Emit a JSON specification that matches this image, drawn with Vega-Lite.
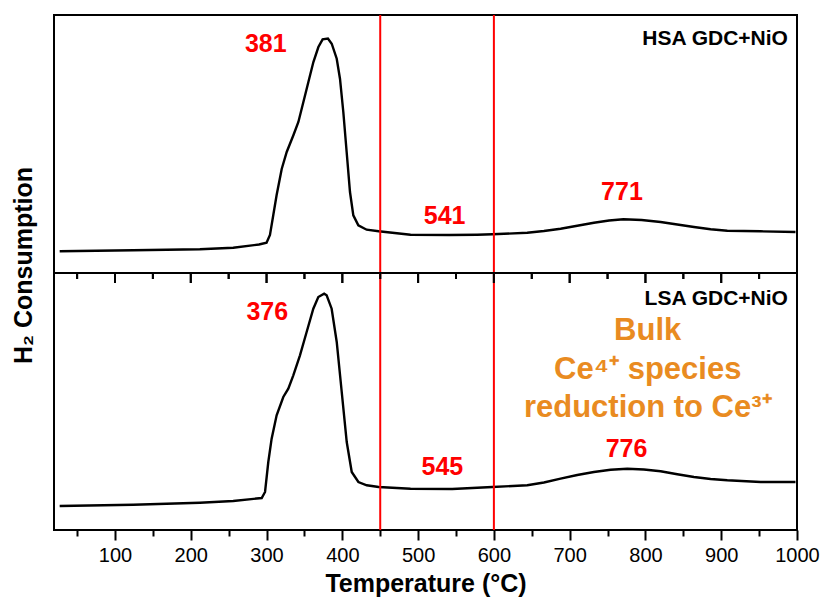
{
  "$schema": "https://vega.github.io/schema/vega-lite/v6.json",
  "padding": {"left": 10, "top": 13, "right": 5, "bottom": 5},
  "spacing": 0,
  "bounds": "flush",
  "config": {
    "view": {"stroke": "black", "strokeWidth": 2},
    "font": "Liberation Sans",
    "axis": {"grid": false, "domain": false}
  },
  "datasets": {
    "hsa": [
      {"temp": 27, "signal": 21.7}, {"temp": 124, "signal": 22.7}, {"temp": 212, "signal": 23.7},
      {"temp": 256, "signal": 25.3}, {"temp": 290, "signal": 28.5}, {"temp": 300, "signal": 30.3},
      {"temp": 304.5, "signal": 38}, {"temp": 308.9, "signal": 58}, {"temp": 313.3, "signal": 78},
      {"temp": 320, "signal": 104}, {"temp": 326.6, "signal": 121}, {"temp": 335.4, "signal": 137.7},
      {"temp": 342, "signal": 151}, {"temp": 348.6, "signal": 171}, {"temp": 355.2, "signal": 191},
      {"temp": 361.8, "signal": 211}, {"temp": 368.4, "signal": 226}, {"temp": 374, "signal": 233.7},
      {"temp": 381, "signal": 234.5}, {"temp": 386, "signal": 229.3}, {"temp": 392.6, "signal": 214.3},
      {"temp": 396.9, "signal": 194.3}, {"temp": 401.3, "signal": 161}, {"temp": 405.7, "signal": 121},
      {"temp": 410.1, "signal": 81}, {"temp": 414.5, "signal": 57.7}, {"temp": 421.1, "signal": 47.7},
      {"temp": 432.1, "signal": 43.3}, {"temp": 448, "signal": 41.7}, {"temp": 490, "signal": 38.3},
      {"temp": 541, "signal": 38}, {"temp": 578, "signal": 38.3}, {"temp": 598, "signal": 38.7},
      {"temp": 644, "signal": 40.3}, {"temp": 666, "signal": 42}, {"temp": 688, "signal": 44.3},
      {"temp": 710, "signal": 47.3}, {"temp": 732, "signal": 50.3}, {"temp": 752, "signal": 52.5},
      {"temp": 771, "signal": 53.7}, {"temp": 795, "signal": 53}, {"temp": 820, "signal": 51},
      {"temp": 842, "signal": 48.5}, {"temp": 864, "signal": 46}, {"temp": 886, "signal": 43.8},
      {"temp": 908, "signal": 42.3}, {"temp": 952, "signal": 41.7}, {"temp": 998, "signal": 41}
    ],
    "lsa": [
      {"temp": 27, "signal": 24}, {"temp": 124, "signal": 25.3}, {"temp": 212, "signal": 27.3},
      {"temp": 256, "signal": 29}, {"temp": 293.6, "signal": 32}, {"temp": 298, "signal": 38},
      {"temp": 302.3, "signal": 68}, {"temp": 306.7, "signal": 91.3}, {"temp": 313.3, "signal": 114.7},
      {"temp": 322.1, "signal": 133}, {"temp": 328.7, "signal": 141.3}, {"temp": 335.3, "signal": 154.7},
      {"temp": 344.1, "signal": 174.7}, {"temp": 352.9, "signal": 198}, {"temp": 361.7, "signal": 221.3},
      {"temp": 368.3, "signal": 233}, {"temp": 376, "signal": 236.3}, {"temp": 379.3, "signal": 234.7},
      {"temp": 385.9, "signal": 221.3}, {"temp": 392.6, "signal": 188}, {"temp": 399.2, "signal": 138},
      {"temp": 405.8, "signal": 88}, {"temp": 412.4, "signal": 58}, {"temp": 421.2, "signal": 48},
      {"temp": 432.2, "signal": 44.7}, {"temp": 448, "signal": 43}, {"temp": 490, "signal": 41.3},
      {"temp": 545, "signal": 41}, {"temp": 598, "signal": 43}, {"temp": 644, "signal": 44.7},
      {"temp": 666, "signal": 47.5}, {"temp": 688, "signal": 51.3}, {"temp": 710, "signal": 55},
      {"temp": 732, "signal": 58}, {"temp": 754, "signal": 60.3}, {"temp": 776, "signal": 61.3},
      {"temp": 798, "signal": 60.5}, {"temp": 820, "signal": 58.7}, {"temp": 842, "signal": 55.8},
      {"temp": 864, "signal": 53}, {"temp": 886, "signal": 51}, {"temp": 908, "signal": 49.7},
      {"temp": 952, "signal": 48}, {"temp": 998, "signal": 48}
    ],
    "bounds": [{"boundary": 450}, {"boundary": 600}],
    "majorTicks": [
      {"tick": 100}, {"tick": 200}, {"tick": 300}, {"tick": 400}, {"tick": 500},
      {"tick": 600}, {"tick": 700}, {"tick": 800}, {"tick": 900}, {"tick": 1000}
    ],
    "minorTicks": [
      {"tick": 50}, {"tick": 150}, {"tick": 250}, {"tick": 350}, {"tick": 450},
      {"tick": 550}, {"tick": 650}, {"tick": 750}, {"tick": 850}, {"tick": 950}
    ],
    "peaks": [
      {"sample": "HSA", "peak": 381, "tx": 299, "ty": 221},
      {"sample": "HSA", "peak": 541, "tx": 535, "ty": 49},
      {"sample": "HSA", "peak": 771, "tx": 769, "ty": 73},
      {"sample": "LSA", "peak": 376, "tx": 301, "ty": 210},
      {"sample": "LSA", "peak": 545, "tx": 532, "ty": 55},
      {"sample": "LSA", "peak": 776, "tx": 775, "ty": 73}
    ],
    "tags": [
      {"sample": "HSA", "name": "HSA GDC+NiO", "tx": 988, "ty": 228},
      {"sample": "LSA", "name": "LSA GDC+NiO", "tx": 988, "ty": 225}
    ],
    "note": [
      {"line": "Bulk", "tx": 803, "ty": 190},
      {"line": "Ce⁴⁺ species", "tx": 803, "ty": 151},
      {"line": "reduction to Ce³⁺", "tx": 803, "ty": 113}
    ]
  },
  "vconcat": [
    {
      "width": 743,
      "height": 258,
      "layer": [
        {
          "data": {"name": "hsa"},
          "mark": {"type": "line", "color": "black", "strokeWidth": 2.4},
          "encoding": {
            "x": {
              "field": "temp", "type": "quantitative",
              "scale": {"domain": [19.5, 1000], "nice": false, "zero": false},
              "axis": null
            },
            "y": {
              "field": "signal", "type": "quantitative",
              "scale": {"domain": [0, 258], "nice": false, "zero": false},
              "axis": {
                "title": "H₂ Consumption", "labels": false, "ticks": false,
                "titleFontSize": 25, "titleFontWeight": "bold", "titleColor": "black",
                "titleAngle": -90, "titleAlign": "center", "titleBaseline": "middle",
                "titleX": -31, "titleY": 250
              }
            }
          }
        },
        {
          "data": {"name": "bounds"},
          "mark": {"type": "rule", "color": "#ff0000", "strokeWidth": 2},
          "encoding": {"x": {"field": "boundary", "type": "quantitative"}}
        },
        {
          "data": {"name": "majorTicks"},
          "mark": {"type": "rule", "color": "black", "strokeWidth": 2, "clip": false},
          "encoding": {
            "x": {"field": "tick", "type": "quantitative"},
            "y": {"datum": 0, "type": "quantitative"},
            "y2": {"datum": -10}
          }
        },
        {
          "data": {"name": "minorTicks"},
          "mark": {"type": "rule", "color": "black", "strokeWidth": 2, "clip": false},
          "encoding": {
            "x": {"field": "tick", "type": "quantitative"},
            "y": {"datum": 0, "type": "quantitative"},
            "y2": {"datum": -6}
          }
        },
        {
          "data": {"name": "peaks"},
          "transform": [{"filter": "datum.sample === 'HSA'"}],
          "mark": {"type": "text", "color": "#ff0000", "fontSize": 25, "fontWeight": "bold", "baseline": "alphabetic", "align": "center"},
          "encoding": {
            "x": {"field": "tx", "type": "quantitative"},
            "y": {"field": "ty", "type": "quantitative"},
            "text": {"field": "peak", "type": "quantitative"}
          }
        },
        {
          "data": {"name": "tags"},
          "transform": [{"filter": "datum.sample === 'HSA'"}],
          "mark": {"type": "text", "color": "black", "fontSize": 21, "fontWeight": "bold", "baseline": "alphabetic", "align": "right"},
          "encoding": {
            "x": {"field": "tx", "type": "quantitative"},
            "y": {"field": "ty", "type": "quantitative"},
            "text": {"field": "name"}
          }
        }
      ]
    },
    {
      "width": 743,
      "height": 257,
      "layer": [
        {
          "data": {"name": "lsa"},
          "mark": {"type": "line", "color": "black", "strokeWidth": 2.4},
          "encoding": {
            "x": {
              "field": "temp", "type": "quantitative",
              "scale": {"domain": [19.5, 1000], "nice": false, "zero": false},
              "axis": {
                "orient": "bottom", "title": "Temperature (°C)", "offset": 0, "format": "d",
                "values": [100, 200, 300, 400, 500, 600, 700, 800, 900, 1000],
                "labelFontSize": 20, "labelColor": "black", "labelPadding": 5, "labelFlush": false, "labelOverlap": false,
                "titleFontSize": 25, "titleFontWeight": "bold", "titleColor": "black", "titlePadding": 6,
                "tickColor": "black", "tickWidth": 2, "tickSize": 10
              }
            },
            "y": {
              "field": "signal", "type": "quantitative",
              "scale": {"domain": [0, 257], "nice": false, "zero": false},
              "axis": null
            }
          }
        },
        {
          "data": {"name": "bounds"},
          "mark": {"type": "rule", "color": "#ff0000", "strokeWidth": 2},
          "encoding": {
            "x": {
              "field": "boundary", "type": "quantitative",
              "axis": {
                "orient": "bottom", "title": null, "labels": false, "offset": 0,
                "values": [50, 150, 250, 350, 450, 550, 650, 750, 850, 950],
                "tickColor": "black", "tickWidth": 2, "tickSize": 6
              }
            }
          }
        },
        {
          "data": {"name": "majorTicks"},
          "mark": {"type": "rule", "color": "black", "strokeWidth": 2},
          "encoding": {
            "x": {"field": "tick", "type": "quantitative", "axis": null},
            "y": {"datum": 257, "type": "quantitative"},
            "y2": {"datum": 247}
          }
        },
        {
          "data": {"name": "minorTicks"},
          "mark": {"type": "rule", "color": "black", "strokeWidth": 2},
          "encoding": {
            "x": {"field": "tick", "type": "quantitative", "axis": null},
            "y": {"datum": 257, "type": "quantitative"},
            "y2": {"datum": 251}
          }
        },
        {
          "data": {"name": "peaks"},
          "transform": [{"filter": "datum.sample === 'LSA'"}],
          "mark": {"type": "text", "color": "#ff0000", "fontSize": 25, "fontWeight": "bold", "baseline": "alphabetic", "align": "center"},
          "encoding": {
            "x": {"field": "tx", "type": "quantitative", "axis": null},
            "y": {"field": "ty", "type": "quantitative"},
            "text": {"field": "peak", "type": "quantitative"}
          }
        },
        {
          "data": {"name": "tags"},
          "transform": [{"filter": "datum.sample === 'LSA'"}],
          "mark": {"type": "text", "color": "black", "fontSize": 21, "fontWeight": "bold", "baseline": "alphabetic", "align": "right"},
          "encoding": {
            "x": {"field": "tx", "type": "quantitative", "axis": null},
            "y": {"field": "ty", "type": "quantitative"},
            "text": {"field": "name"}
          }
        },
        {
          "data": {"name": "note"},
          "mark": {"type": "text", "color": "#e98b21", "fontSize": 31, "fontWeight": "bold", "baseline": "alphabetic", "align": "center"},
          "encoding": {
            "x": {"field": "tx", "type": "quantitative", "axis": null},
            "y": {"field": "ty", "type": "quantitative"},
            "text": {"field": "line"}
          }
        }
      ],
      "resolve": {"axis": {"x": "independent"}}
    }
  ]
}
